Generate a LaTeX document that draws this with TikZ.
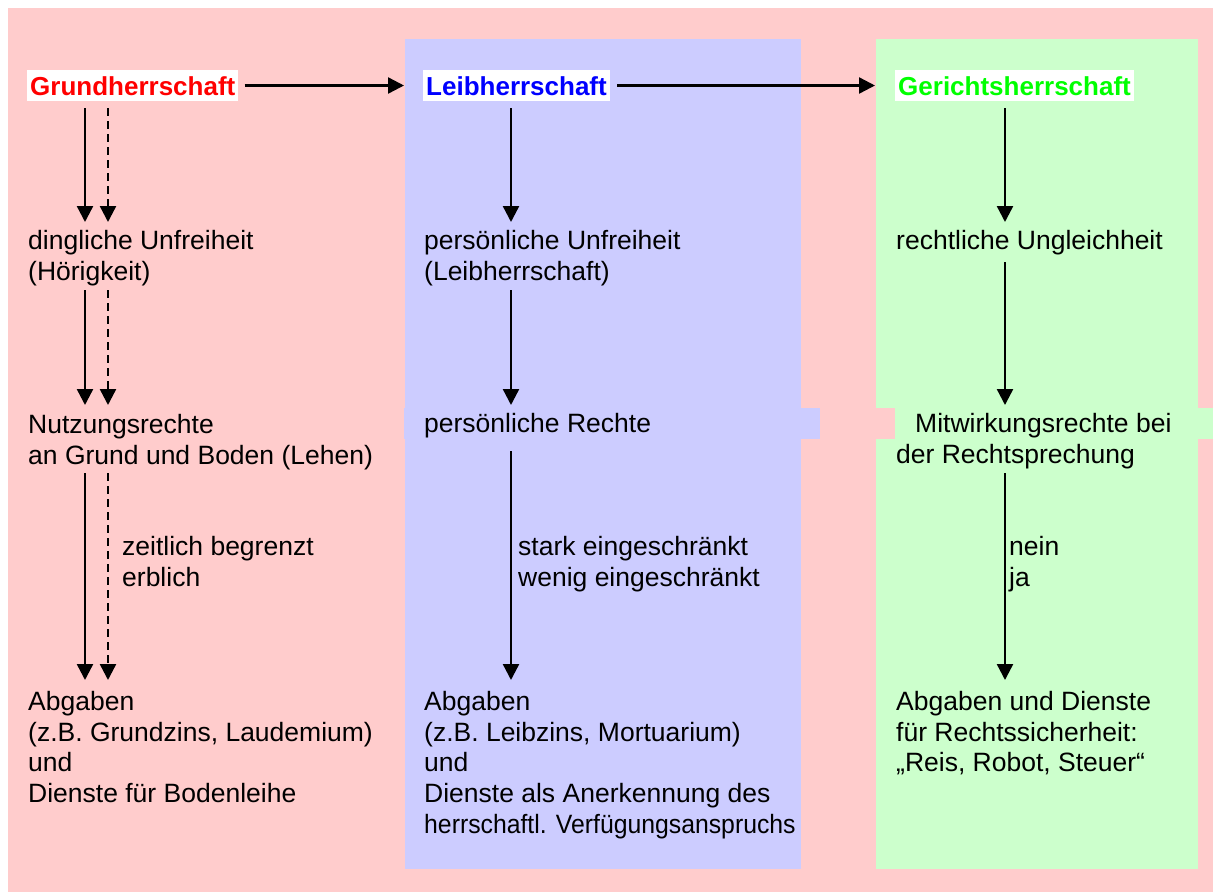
\documentclass[tikz,border=0pt]{standalone}
\usepackage{graphicx}
\usepackage{fontspec}
\setmainfont{Liberation Sans}
\usetikzlibrary{arrows.meta}

\definecolor{panelpink}{HTML}{FFCCCC}
\definecolor{panelblue}{HTML}{CCCCFF}
\definecolor{panelgreen}{HTML}{CCFFCC}
\definecolor{hdrred}{HTML}{FF0000}
\definecolor{hdrblue}{HTML}{0000FF}
\definecolor{hdrgreen}{HTML}{00FF00}

% fixed height of a first line and depth of a last line
\newcommand\firstln{\rule{0pt}{20pt}}
\newcommand\lastln{\rule[-6pt]{0pt}{6pt}}

\begin{document}
\begin{tikzpicture}[x=1pt, y=-1pt,
  txt/.style={anchor=north west, inner sep=0pt, align=left,
              font=\fontsize{26.5}{30.8}\selectfont},
  hdr/.style={anchor=base west, fill=white, inner xsep=3pt, inner ysep=3pt,
              text height=22pt, text depth=3pt,
              font=\bfseries\fontsize{26}{30}\selectfont},
  arr/.style={line width=2.4pt, -{Triangle[length=16pt,width=16pt]}},
  dsh/.style={arr, dash pattern=on 8pt off 5pt},
]
\useasboundingbox (0,0) rectangle (1213,892);

% background panels
\fill[panelpink]  (8,8)    rectangle (1213,892);
\fill[panelblue]  (405,39) rectangle (801,869);
\fill[panelgreen] (876,39) rectangle (1198,869);
% bands behind the third row
\fill[panelpink]  (876,408) rectangle (895,439);
\fill[panelblue]  (404,408) rectangle (820,439);
\fill[panelgreen] (895,408) rectangle (1213,439);

% arrow columns
\coordinate (ca)  at (85,0);
\coordinate (cad) at (108,0);
\coordinate (cb)  at (511,0);
\coordinate (cc)  at (1005,0);

% headers
\node[hdr, text=hdrred]   (g0) at (27,95)  {Grundherrschaft};
\node[hdr, text=hdrblue]  (l0) at (423,95) {Leibherrschaft};
\node[hdr, text=hdrgreen] (r0) at (895,95) {Gerichtsherrschaft};

% second row
\node[txt] (g1) at (28,229)  {\firstln dingliche Unfreiheit\\(Hörigkeit)\lastln};
\node[txt] (l1) at (424,229) {\firstln persönliche Unfreiheit\\(Leibherrschaft)\lastln};
\node[txt] (r1) at (896,229) {\firstln rechtliche Ungleichheit\lastln};

% third row
\node[txt] (g2) at (28,413)  {\firstln Nutzungsrechte\\an Grund und Boden (Lehen)\lastln};
\node[txt] (l2) at (424,412) {\firstln persönliche Rechte\lastln};
\node[txt] (r2) at (896,412) {\firstln\hspace*{19pt}Mitwirkungsrechte bei\\der Rechtsprechung\lastln};

% labels beside the long arrows
\node[txt] (gl) at (122,535)  {\firstln zeitlich begrenzt\\erblich};
\node[txt] (ll) at (518,535)  {\firstln stark eingeschränkt\\wenig eingeschränkt};
\node[txt] (rl) at (1009,535) {\firstln nein\\ja};

% bottom row
\node[txt] (g3) at (28,690)  {\firstln Abgaben\\(z.B. Grundzins, Laudemium)\\und\\Dienste für Bodenleihe\lastln};
\node[txt] (l3) at (424,690) {\firstln Abgaben\\(z.B. Leibzins, Mortuarium)\\und\\Dienste als Anerkennung des\\\scalebox{0.935}[1]{herrschaftl. Verfügungsanspruchs}\lastln};
\node[txt] (r3) at (896,690) {\firstln Abgaben und Dienste\\für Rechtssicherheit:\\„Reis, Robot, Steuer“\lastln};

% horizontal arrows between the headers
\draw[arr, shorten <=6pt, shorten >=19pt] (g0.east) -- (l0.west);
\draw[arr, shorten <=7pt, shorten >=20pt] (l0.east) -- (r0.west);

% first column
\draw[arr, shorten <=7pt, shorten >=7pt]  (g0.south -| ca)  -- (g1.north -| ca);
\draw[dsh, shorten <=7pt, shorten >=7pt]  (g0.south -| cad) -- (g1.north -| cad);
\draw[arr, shorten <=4pt, shorten >=8pt]  (g1.south -| ca)  -- (g2.north -| ca);
\draw[dsh, shorten <=4pt, shorten >=8pt]  (g1.south -| cad) -- (g2.north -| cad);
\draw[arr, shorten <=3pt, shorten >=10pt] (g2.south -| ca)  -- (g3.north -| ca);
\draw[dsh, shorten <=3pt, shorten >=10pt] (g2.south -| cad) -- (g3.north -| cad);

% second column
\draw[arr, shorten <=7pt, shorten >=7pt]   (l0.south -| cb) -- (l1.north -| cb);
\draw[arr, shorten <=4pt, shorten >=7pt]   (l1.south -| cb) -- (l2.north -| cb);
\draw[arr, shorten <=13pt, shorten >=10pt] (l2.south -| cb) -- (l3.north -| cb);

% third column
\draw[arr, shorten <=7pt, shorten >=7pt]  (r0.south -| cc) -- (r1.north -| cc);
\draw[arr, shorten <=7pt, shorten >=7pt]  (r1.south -| cc) -- (r2.north -| cc);
\draw[arr, shorten <=4pt, shorten >=10pt] (r2.south -| cc) -- (r3.north -| cc);
\end{tikzpicture}
\end{document}
